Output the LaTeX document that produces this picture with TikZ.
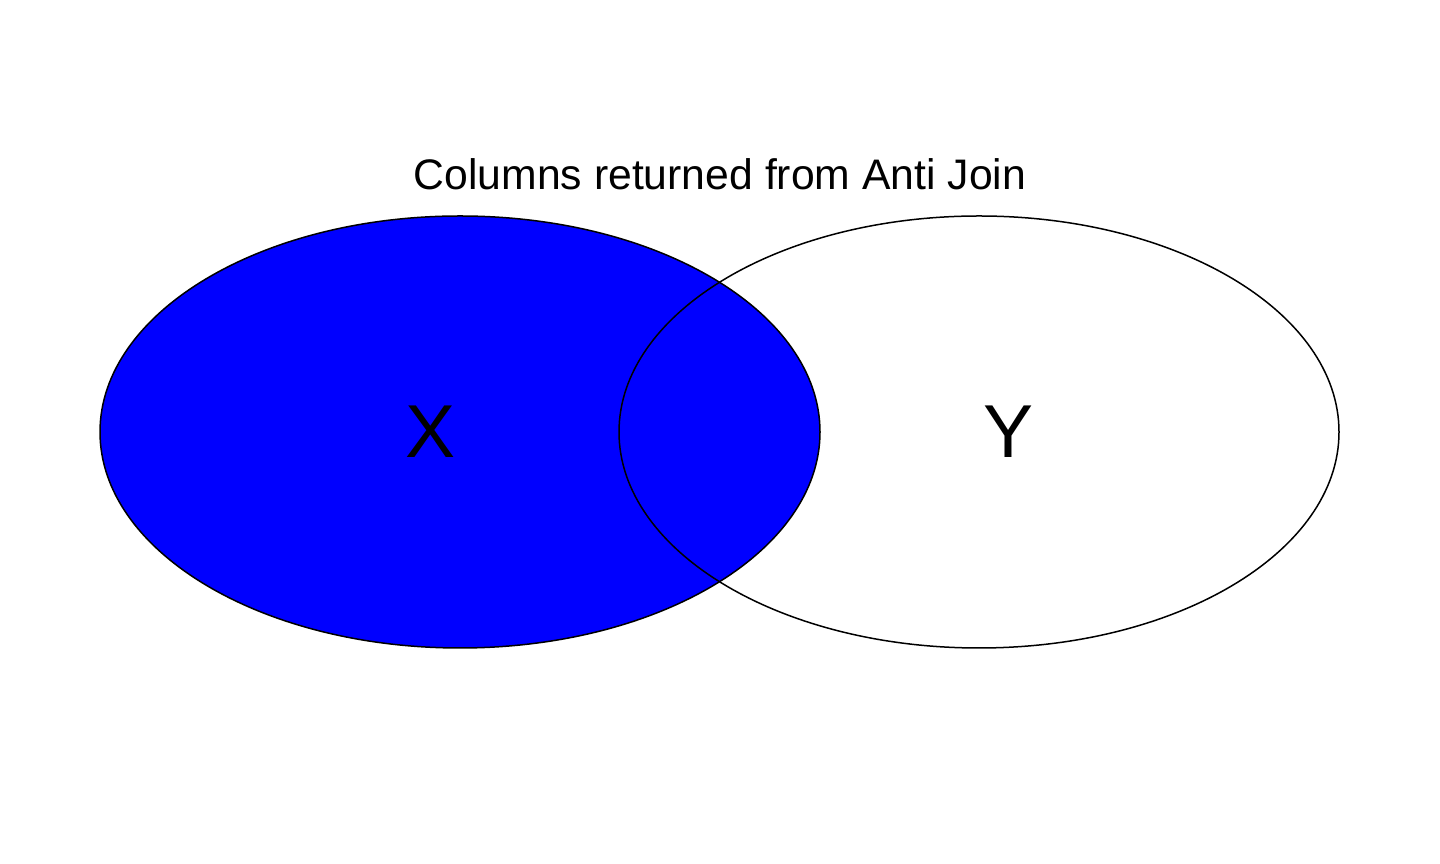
\documentclass[tikz,border=0pt]{standalone}
\usepackage{fontspec}
\setmainfont{Liberation Sans}
\begin{document}
\begin{tikzpicture}[x=1pt,y=1pt,
  setline/.style={draw=black,line width=1.5pt},
  lbl/.style={inner sep=0pt,font=\fontsize{75}{75}\selectfont}]
\useasboundingbox (0,0) rectangle (1440,864);
\fill[white] (0,0) rectangle (1440,864);
\coordinate (cx) at (460,432);
\coordinate (cy) at (979,432);
\fill[blue] (cx) ellipse [x radius=360, y radius=216];
\draw[setline] (cx) ellipse [x radius=360, y radius=216];
\draw[setline] (cy) ellipse [x radius=360, y radius=216];
\node[lbl] (X) at (431,432) {X};
\node[lbl] (Y) at (1008,432) {Y};
\node[inner sep=0pt,anchor=base,font=\fontsize{42.7}{45}\selectfont] (title) at (720,674) {Columns returned from Anti Join};
\end{tikzpicture}
\end{document}
